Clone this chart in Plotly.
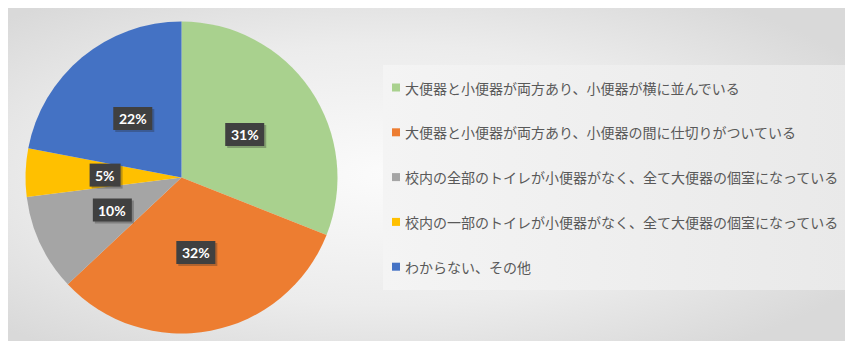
import math
import base64
import plotly.graph_objects as go

# ---- data ----
labels = [
    "大便器と小便器が両方あり、小便器が横に並んでいる",
    "大便器と小便器が両方あり、小便器の間に仕切りがついている",
    "校内の全部のトイレが小便器がなく、全て大便器の個室になっている",
    "校内の一部のトイレが小便器がなく、全て大便器の個室になっている",
    "わからない、その他",
]
values = [31, 32, 10, 5, 22]
colors = ["#A9D18E", "#ED7D31", "#A5A5A5", "#FFC000", "#4472C4"]

# ---- layout geometry (pixels in the 853x341 window) ----
WIN_W, WIN_H = 853, 341
OFF = 8  # default page body margin
W, H = WIN_W - OFF, WIN_H - OFF
cx, cy, R = 181.5, 177.5, 156


def px(x):
    return (x - OFF) / W


def py(y):
    return 1 - (y - OFF) / H


fig = go.Figure(
    go.Pie(
        labels=labels,
        values=values,
        sort=False,
        direction="clockwise",
        rotation=0,
        marker=dict(colors=colors, line=dict(width=0)),
        textinfo="none",
        hoverinfo="label+percent",
        showlegend=False,
        domain=dict(x=[px(cx - R), px(cx + R)], y=[py(cy + R), py(cy - R)]),
    )
)

# ---- background (gradient panel), in figure pixel space ----
svg = f"""<svg xmlns='http://www.w3.org/2000/svg' width='{W}' height='{H}' viewBox='0 0 {W} {H}' preserveAspectRatio='none'>
<defs>
<radialGradient id='g' cx='45%' cy='50%' r='65%'>
<stop offset='0%' stop-color='#fbfbfb'/>
<stop offset='60%' stop-color='#ececec'/>
<stop offset='100%' stop-color='#d9d9d9'/>
</radialGradient>
<linearGradient id='l' x1='0' y1='0' x2='1' y2='0'>
<stop offset='0%' stop-color='#f4f4f4'/>
<stop offset='100%' stop-color='#e9e9e9'/>
</linearGradient>
</defs>
<rect x='0' y='0' width='{W}' height='{H}' fill='url(#g)'/>
<rect x='{383-OFF}' y='{65-OFF}' width='{W-(383-OFF)-3}' height='225' fill='url(#l)'/>
</svg>"""
src = "data:image/svg+xml;base64," + base64.b64encode(svg.encode("utf-8")).decode("ascii")
fig.add_layout_image(
    dict(source=src, xref="paper", yref="paper", x=0, y=1, sizex=1, sizey=1,
         sizing="stretch", xanchor="left", yanchor="top", layer="below")
)

# ---- slice percentage labels (dark boxes with soft shadow) ----
total = sum(values)
cum = 0
for v in values:
    mid = math.radians(90 - 360 * (cum + v / 2) / total)
    cum += v
    lx = cx + 0.49 * R * math.cos(mid)
    ly = cy - 0.49 * R * math.sin(mid)
    bw = 8 * len(str(v)) + 11 + 12
    bh = 23
    fig.add_shape(
        type="rect", xref="paper", yref="paper", layer="above",
        x0=px(lx - bw / 2 + 2), x1=px(lx + bw / 2 + 2),
        y0=py(ly + bh / 2 + 2), y1=py(ly - bh / 2 + 2),
        fillcolor="rgba(40,40,40,0.30)", line=dict(width=0),
    )
    fig.add_shape(
        type="rect", xref="paper", yref="paper", layer="above",
        x0=px(lx - bw / 2), x1=px(lx + bw / 2),
        y0=py(ly + bh / 2), y1=py(ly - bh / 2),
        fillcolor="#404040", line=dict(width=0),
    )
    fig.add_annotation(
        x=px(lx), y=py(ly), xref="paper", yref="paper",
        xanchor="center", yanchor="middle",
        text=f"<b>{v}%</b>", showarrow=False,
        font=dict(family="Lato, Open Sans, sans-serif", size=14, color="#ffffff"),
    )

# ---- legend (drawn manually for Excel-like spacing) ----
row0, gap = 87.5, 44.8
for i, (lab, col) in enumerate(zip(labels, colors)):
    yc = row0 + i * gap
    fig.add_shape(
        type="rect", xref="paper", yref="paper",
        x0=px(392), x1=px(400), y0=py(yc + 4), y1=py(yc - 4),
        fillcolor=col, line=dict(width=0),
    )
    fig.add_annotation(
        x=px(403), y=py(yc), xref="paper", yref="paper",
        text=lab, showarrow=False, xanchor="left", yanchor="middle",
        font=dict(family="Noto Sans CJK JP, sans-serif", size=14, color="#595959"),
    )

fig.update_layout(
    width=W, height=H,
    margin=dict(l=0, r=0, t=0, b=0),
    paper_bgcolor="#ffffff",
    plot_bgcolor="rgba(0,0,0,0)",
    showlegend=False,
)

fig.write_html("out.html")
